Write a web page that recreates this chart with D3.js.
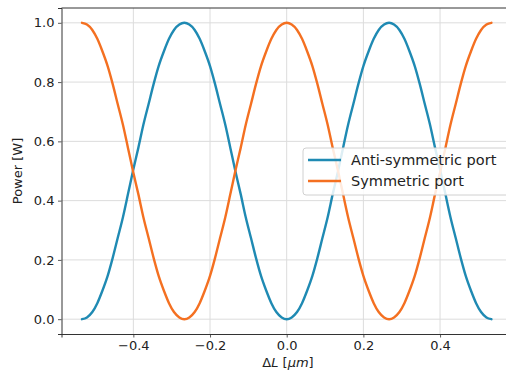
<!DOCTYPE html>
<html>
<head>
<meta charset="utf-8">
<script src="https://cdn.jsdelivr.net/npm/d3@7"></script>
<style>
  html, body { margin: 0; padding: 0; background: #fff; }
  svg { display: block; font-family: "DejaVu Sans", sans-serif; }
</style>
</head>
<body>
<div id="chart"></div>
<script>
// Path-length difference between the interferometer arms (µm)
const deltaL = [
  -0.534, -0.521, -0.507, -0.494, -0.481, -0.467, -0.454, -0.441, -0.427, -0.414,
  -0.401, -0.387, -0.374, -0.360, -0.347, -0.334, -0.320, -0.307, -0.294, -0.280,
  -0.267, -0.254, -0.240, -0.227, -0.214, -0.200, -0.187, -0.174, -0.160, -0.147,
  -0.134, -0.120, -0.107, -0.093, -0.080, -0.067, -0.053, -0.040, -0.027, -0.013,
   0.000,
   0.013,  0.027,  0.040,  0.053,  0.067,  0.080,  0.093,  0.107,  0.120,  0.134,
   0.147,  0.160,  0.174,  0.187,  0.200,  0.214,  0.227,  0.240,  0.254,  0.267,
   0.280,  0.294,  0.307,  0.320,  0.334,  0.347,  0.360,  0.374,  0.387,  0.401,
   0.414,  0.427,  0.441,  0.454,  0.467,  0.481,  0.494,  0.507,  0.521,  0.534
];

// Output power at the anti-symmetric port (W)
const antiSymmetric = [
  0.000, 0.006, 0.024, 0.054, 0.095, 0.146, 0.206, 0.273, 0.345, 0.422,
  0.500, 0.578, 0.655, 0.727, 0.794, 0.854, 0.905, 0.946, 0.976, 0.994,
  1.000, 0.994, 0.976, 0.946, 0.905, 0.854, 0.794, 0.727, 0.655, 0.578,
  0.500, 0.422, 0.345, 0.273, 0.206, 0.146, 0.095, 0.054, 0.024, 0.006,
  0.000,
  0.006, 0.024, 0.054, 0.095, 0.146, 0.206, 0.273, 0.345, 0.422, 0.500,
  0.578, 0.655, 0.727, 0.794, 0.854, 0.905, 0.946, 0.976, 0.994, 1.000,
  0.994, 0.976, 0.946, 0.905, 0.854, 0.794, 0.727, 0.655, 0.578, 0.500,
  0.422, 0.345, 0.273, 0.206, 0.146, 0.095, 0.054, 0.024, 0.006, 0.000
];

// Output power at the symmetric port (W)
const symmetric = [
  1.000, 0.994, 0.976, 0.946, 0.905, 0.854, 0.794, 0.727, 0.655, 0.578,
  0.500, 0.422, 0.345, 0.273, 0.206, 0.146, 0.095, 0.054, 0.024, 0.006,
  0.000, 0.006, 0.024, 0.054, 0.095, 0.146, 0.206, 0.273, 0.345, 0.422,
  0.500, 0.578, 0.655, 0.727, 0.794, 0.854, 0.905, 0.946, 0.976, 0.994,
  1.000,
  0.994, 0.976, 0.946, 0.905, 0.854, 0.794, 0.727, 0.655, 0.578, 0.500,
  0.422, 0.345, 0.273, 0.206, 0.146, 0.095, 0.054, 0.024, 0.006, 0.000,
  0.006, 0.024, 0.054, 0.095, 0.146, 0.206, 0.273, 0.345, 0.422, 0.500,
  0.578, 0.655, 0.727, 0.794, 0.854, 0.905, 0.946, 0.976, 0.994, 1.000
];

const seriesNames = ["Anti-symmetric port", "Symmetric port"];
const seriesColors = ["#1f8ab3", "#f47021"];
const xTicks = [-0.4, -0.2, 0.0, 0.2, 0.4];
const yTicks = [0.0, 0.2, 0.4, 0.6, 0.8, 1.0];

const W = 506, H = 374;
const svg = d3.select("#chart").append("svg")
  .attr("width", W).attr("height", H);

const x = d3.scaleLinear().domain([-0.5874, 0.5874]).range([61.5, 511.9]);
const y = d3.scaleLinear().domain([-0.05, 1.05]).range([334, 8]);

const fmt = d3.format(".1f");
const minusFmt = v => fmt(v).replace("-", "\u2212");

// grid
const grid = svg.append("g").attr("stroke", "#dcdcdc").attr("stroke-width", 1);
grid.selectAll(".gx").data(xTicks).join("line")
  .attr("x1", d => x(d)).attr("x2", d => x(d))
  .attr("y1", y.range()[0]).attr("y2", y.range()[1]);
grid.selectAll(".gy").data(yTicks).join("line")
  .attr("x1", x.range()[0]).attr("x2", x.range()[1])
  .attr("y1", d => y(d)).attr("y2", d => y(d));

// axes
const xAxis = svg.append("g")
  .attr("transform", `translate(0,${y.range()[0]})`)
  .call(d3.axisBottom(x).tickValues(xTicks).tickFormat(minusFmt).tickSize(3.5).tickPadding(3.5));
const yAxis = svg.append("g")
  .attr("transform", `translate(${x.range()[0]},0)`)
  .call(d3.axisLeft(y).tickValues(yTicks).tickFormat(minusFmt).tickSize(3.5).tickPadding(3.5));
[xAxis, yAxis].forEach(g => {
  g.select(".domain").attr("stroke", "#333").attr("stroke-width", 1);
  g.selectAll(".tick line").attr("stroke", "#333").attr("stroke-width", 0.8);
  g.selectAll(".tick text").attr("fill", "#222").style("font-size", "13px")
    .style("font-family", "DejaVu Sans, sans-serif");
});
// top spine
svg.append("line")
  .attr("x1", x.range()[0]).attr("x2", x.range()[1])
  .attr("y1", y.range()[1]).attr("y2", y.range()[1])
  .attr("stroke", "#333").attr("stroke-width", 1);

// curves
const line = d3.line()
  .x((d, i) => x(deltaL[i]))
  .y(d => y(d))
  .curve(d3.curveMonotoneX);

[antiSymmetric, symmetric].forEach((vals, k) => {
  svg.append("path")
    .attr("d", line(vals))
    .attr("fill", "none")
    .attr("stroke", seriesColors[k])
    .attr("stroke-width", 2.4)
    .attr("stroke-linecap", "round");
});

// axis labels
svg.append("text")
  .attr("x", 288).attr("y", 367)
  .attr("text-anchor", "middle")
  .attr("fill", "#222")
  .style("font-size", "13px")
  .html('\u0394<tspan font-style="italic">L</tspan> [<tspan font-style="italic">\u03bcm</tspan>]');

svg.append("text")
  .attr("transform", `translate(22,${(y.range()[0] + y.range()[1]) / 2}) rotate(-90)`)
  .attr("text-anchor", "middle")
  .attr("fill", "#222")
  .style("font-size", "13px")
  .text("Power [W]");

// legend
const leg = svg.append("g").attr("transform", "translate(303,148)");
leg.append("rect")
  .attr("width", 206).attr("height", 47).attr("rx", 3)
  .attr("fill", "rgba(255,255,255,0.85)")
  .attr("stroke", "#d0d0d0").attr("stroke-width", 1);
seriesNames.forEach((name, k) => {
  const row = leg.append("g").attr("transform", `translate(0,${12 + k * 21})`);
  row.append("line")
    .attr("x1", 5).attr("x2", 38)
    .attr("stroke", seriesColors[k]).attr("stroke-width", 2.4);
  row.append("text")
    .attr("x", 48).attr("y", 5)
    .attr("fill", "#222")
    .style("font-size", "14.5px")
    .text(name);
});
</script>
</body>
</html>
